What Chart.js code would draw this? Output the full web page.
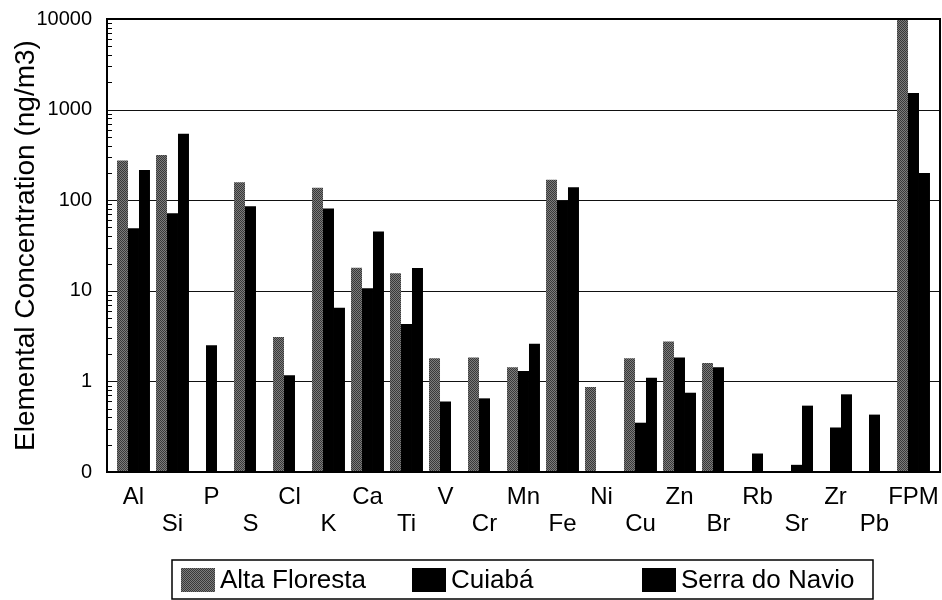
<!DOCTYPE html>
<html>
<head>
<meta charset="utf-8">
<script src="https://cdn.jsdelivr.net/npm/chart.js@4.4.1/dist/chart.umd.min.js"></script>
<style>
  html, body { margin: 0; padding: 0; background: #fff; }
  #wrap { width: 942px; height: 600px; }
</style>
</head>
<body>
<div id="wrap"><canvas id="chart" width="942" height="600"></canvas></div>
<script>
// Elemental concentrations (ng/m3)
const elements = ['Al', 'Si', 'P', 'S', 'Cl', 'K', 'Ca', 'Ti', 'V', 'Cr', 'Mn',
                  'Fe', 'Ni', 'Cu', 'Zn', 'Br', 'Rb', 'Sr', 'Zr', 'Pb', 'FPM'];
const altaFloresta = [275, 316, null, 158, 3.1, 137, 18, 15.6, 1.8, 1.83, 1.43,
                      168, 0.87, 1.8, 2.75, 1.6, null, null, null, null, 12000];
const cuiaba = [49, 72, 2.5, 86, 1.17, 81, 10.7, 4.3, 0.6, 0.65, 1.3,
                98, null, 0.35, 1.83, 1.43, 0.16, 0.12, 0.31, 0.43, 1520];
const serraDoNavio = [216, 540, null, null, null, 6.5, 45, 17.9, null, null, 2.6,
                      139, null, 1.1, 0.75, null, null, 0.54, 0.72, null, 199];
const seriesNames = ['Alta Floresta', 'Cuiabá', 'Serra do Navio'];
const decadeTicks = [0.1, 1, 10, 100, 1000, 10000];

const FONT = '"Liberation Sans", Arial, sans-serif';
const framePad = 7; // frame sits a little outside the category band

// labels alternate between two rows
const axisLabels = elements.map((e, i) => i % 2 === 0 ? [e, ''] : ['', e]);

const canvas = document.getElementById('chart');

// grey stipple fill for Alta Floresta
function stipple() {
    const c = document.createElement('canvas');
    c.width = 2; c.height = 2;
    const g = c.getContext('2d');
    g.fillStyle = '#7c7c7c';
    g.fillRect(0, 0, 2, 2);
    g.fillStyle = '#383838';
    g.fillRect(0, 0, 1, 1);
    g.fillRect(1, 1, 1, 1);
    return canvas.getContext('2d').createPattern(c, 'repeat');
}
const altaFill = stipple();

// frame, decade gridlines and minor tick marks
const framePlugin = {
    id: 'frame',
    beforeDatasetsDraw(chart) {
        const { ctx, chartArea: a, scales: { y } } = chart;
        ctx.save();
        ctx.strokeStyle = '#111';
        ctx.lineWidth = 1.2;
        decadeTicks.slice(1, -1).forEach(v => {
            const py = Math.round(y.getPixelForValue(v)) + 0.5;
            ctx.beginPath();
            ctx.moveTo(a.left - framePad, py);
            ctx.lineTo(a.right + framePad, py);
            ctx.stroke();
        });
        ctx.restore();
    },
    afterDatasetsDraw(chart) {
        const { ctx, chartArea: a, scales: { y } } = chart;
        const left = a.left - framePad, right = a.right + framePad;
        ctx.save();
        ctx.strokeStyle = '#000';
        ctx.lineWidth = 1;
        for (let d = 0.1; d < 5000; d *= 10) {
            for (let k = 2; k <= 9; k++) {
                const py = Math.round(y.getPixelForValue(k * d)) + 0.5;
                ctx.beginPath();
                ctx.moveTo(left, py);
                ctx.lineTo(left + 5, py);
                ctx.stroke();
            }
        }
        ctx.lineWidth = 2;
        ctx.strokeRect(left, a.top, right - left, a.bottom - a.top);
        ctx.restore();
    }
};

// boxed legend under the axis
const legendPlugin = {
    id: 'boxLegend',
    afterDraw(chart) {
        const ctx = chart.ctx;
        const starts = [181, 412, 642];
        ctx.save();
        ctx.strokeStyle = '#000';
        ctx.lineWidth = 1.5;
        ctx.strokeRect(172, 560, 701, 39);
        ctx.font = '26px ' + FONT;
        ctx.textBaseline = 'middle';
        ctx.fillStyle = '#000';
        chart.data.datasets.forEach((ds, i) => {
            ctx.fillStyle = ds.backgroundColor;
            ctx.fillRect(starts[i], 568, 34, 24);
            ctx.fillStyle = '#000';
            ctx.fillText(ds.label, starts[i] + 39, 581);
        });
        ctx.restore();
    }
};

new Chart(canvas, {
    type: 'bar',
    data: {
        labels: axisLabels,
        datasets: [
            { label: seriesNames[0], data: altaFloresta, backgroundColor: altaFill },
            { label: seriesNames[1], data: cuiaba, backgroundColor: '#000' },
            { label: seriesNames[2], data: serraDoNavio, backgroundColor: '#000' },
        ]
    },
    options: {
        responsive: false,
        animation: false,
        devicePixelRatio: 1,
        layout: { padding: { top: 19, right: 9, left: 0, bottom: 0 } },
        datasets: {
            bar: { categoryPercentage: 0.845, barPercentage: 1.0, borderWidth: 0 }
        },
        plugins: {
            legend: { display: false },
            tooltip: { enabled: false },
        },
        scales: {
            x: {
                // tickLength only offsets the labels; the grid itself is drawn by the frame plugin
                grid: { display: false, drawTicks: true, tickLength: 12 },
                border: { display: false },
                ticks: {
                    autoSkip: false,
                    maxRotation: 0,
                    padding: 0,
                    color: '#000',
                    font: { family: FONT, size: 24, lineHeight: 1.125 },
                },
                afterFit: (scale) => { scale.height = 128; },
            },
            y: {
                type: 'logarithmic',
                min: 0.1,
                max: 10000,
                grid: { display: false, drawTicks: true, tickLength: 20 },
                border: { display: false },
                afterBuildTicks: (scale) => {
                    scale.ticks = decadeTicks.map(v => ({ value: v }));
                },
                ticks: {
                    padding: 2,
                    color: '#000',
                    font: { family: FONT, size: 20 },
                    callback: (v) => v < 0.5 ? '0' : String(Math.round(v)),
                },
                title: {
                    display: true,
                    text: 'Elemental Concentration (ng/m3)',
                    color: '#000',
                    font: { family: FONT, size: 28 },
                    padding: { top: 9, bottom: 0 },
                },
                afterFit: (scale) => { scale.width = 114; },
            }
        }
    },
    plugins: [framePlugin, legendPlugin],
});
</script>
</body>
</html>
